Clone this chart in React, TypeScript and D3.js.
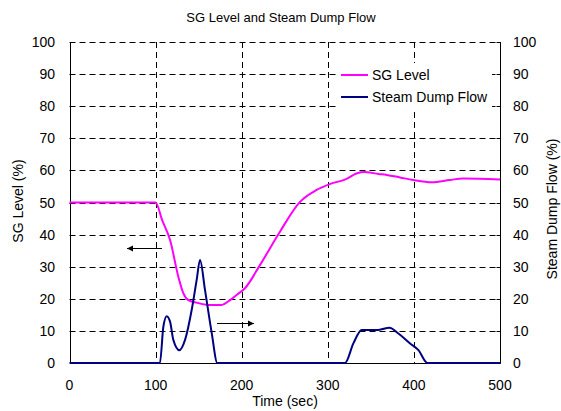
import React, { useEffect, useRef } from 'react';
import * as d3 from 'd3';

// SG level (left axis)
const sgTime = [0, 100, 107.6, 116.8, 126.4, 132.3, 138, 147.6, 161, 176.6, 186.5, 194, 203.8, 221.2, 244.4, 267.7, 287, 303, 320.5, 334, 342, 359, 368.4, 384, 399.3, 420.7, 441.6, 457.1, 500];
const sgLevel = [50, 50, 44.5, 38.3, 26.9, 21.7, 19.6, 18.8, 18.1, 18.1, 19.6, 21.2, 23.3, 30.5, 40.9, 50.2, 53.9, 55.8, 57.2, 59.1, 59.5, 58.9, 58.6, 57.8, 57.0, 56.3, 57.0, 57.5, 57.2];

// steam dump flow (right axis)
const dumpTime = [0, 105, 109, 112.9, 116.8, 120.6, 127.6, 134.2, 141.9, 147.7, 151.6, 157.4, 165.2, 171.7, 320, 329.7, 339.4, 358.7, 371.5, 382, 395.6, 405.3, 415.7, 500];
const dumpFlow = [0, 0, 11.3, 14.6, 12.9, 7.2, 4.0, 7.2, 16.5, 25.9, 32.1, 22.7, 9.3, 0, 0, 6.1, 10.3, 10.3, 11.0, 9.2, 6.1, 4.0, 0, 0];

const xTicks = [0, 100, 200, 300, 400, 500];
const yTicks = [0, 10, 20, 30, 40, 50, 60, 70, 80, 90, 100];
const seriesNames = ['SG Level', 'Steam Dump Flow'];
const seriesColors = ['#ff00ff', '#000080'];

const W = 561, H = 411;
const font = '"Liberation Sans", Arial, sans-serif';

export default function App() {
    const ref = useRef<SVGSVGElement>(null);

    useEffect(() => {
        const svg = d3.select(ref.current);
        svg.selectAll('*').remove();

        const x = d3.scaleLinear().domain([0, 500]).range([69.5, 500]);
        const yL = d3.scaleLinear().domain([0, 100]).range([363, 42]);
        const yR = d3.scaleLinear().domain([0, 100]).range([363, 42]);
        const px = (v: number) => Math.round(v) + 0.5;

        const g = svg.append('g');

        // horizontal grid
        g.selectAll('.hg').data(yTicks.filter(d => d > 0)).enter().append('line')
            .attr('x1', x(0)).attr('x2', x(500))
            .attr('y1', d => px(yL(d))).attr('y2', d => px(yL(d)))
            .attr('stroke', '#000').attr('stroke-dasharray', '6,4');

        // vertical grid
        g.selectAll('.vg').data(xTicks.slice(1, -1)).enter().append('line')
            .attr('x1', d => px(x(d))).attr('x2', d => px(x(d)))
            .attr('y1', yL(100)).attr('y2', yL(0))
            .attr('stroke', '#000').attr('stroke-dasharray', '6,4');

        // axes frame (left, bottom, right)
        g.append('path')
            .attr('d', `M${px(x(0))},${yL(100)}V${px(yL(0))}H${px(x(500))}V${yL(100)}`)
            .attr('fill', 'none').attr('stroke', '#000');

        // right axis ticks, pointing inward
        g.selectAll('.rt').data(yTicks).enter().append('line')
            .attr('x1', px(x(500)) - 4).attr('x2', px(x(500)))
            .attr('y1', d => px(yR(d))).attr('y2', d => px(yR(d)))
            .attr('stroke', '#000');

        // tick labels
        g.selectAll('.yl').data(yTicks).enter().append('text')
            .attr('x', 55).attr('y', d => yL(d) + 5)
            .attr('text-anchor', 'end').attr('font-size', 14).attr('font-family', font)
            .text(d => d);
        g.selectAll('.yr').data(yTicks).enter().append('text')
            .attr('x', 513).attr('y', d => yR(d) + 5)
            .attr('text-anchor', 'start').attr('font-size', 14).attr('font-family', font)
            .text(d => d);
        g.selectAll('.xl').data(xTicks).enter().append('text')
            .attr('x', d => x(d)).attr('y', 390)
            .attr('text-anchor', 'middle').attr('font-size', 14).attr('font-family', font)
            .text(d => d);

        // titles
        g.append('text').attr('x', 281).attr('y', 22).attr('text-anchor', 'middle')
            .attr('font-size', 13).attr('font-family', font).text('SG Level and Steam Dump Flow');
        g.append('text').attr('x', 285).attr('y', 406).attr('text-anchor', 'middle')
            .attr('font-size', 14).attr('font-family', font).text('Time (sec)');
        g.append('text').attr('transform', 'translate(23,201) rotate(-90)').attr('text-anchor', 'middle')
            .attr('font-size', 14).attr('font-family', font).text('SG Level (%)');
        g.append('text').attr('transform', 'translate(557,209) rotate(-90)').attr('text-anchor', 'middle')
            .attr('font-size', 14).attr('font-family', font).text('Steam Dump Flow (%)');

        // series
        const sgLine = d3.line<number>()
            .x((_, i) => x(sgTime[i])).y(d => yL(d))
            .curve(d3.curveMonotoneX);
        const dumpLine = d3.line<number>()
            .x((_, i) => x(dumpTime[i])).y(d => yR(d))
            .curve(d3.curveMonotoneX);

        g.append('path').datum(sgLevel).attr('d', sgLine)
            .attr('fill', 'none').attr('stroke', seriesColors[0]).attr('stroke-width', 2)
            .attr('stroke-linejoin', 'round');
        g.append('path').datum(dumpFlow).attr('d', dumpLine)
            .attr('fill', 'none').attr('stroke', seriesColors[1]).attr('stroke-width', 2)
            .attr('stroke-linejoin', 'round');

        // arrows telling which axis goes with which line
        const arrow = (x1: number, x2: number, y: number) => {
            const dir = Math.sign(x2 - x1);
            g.append('line').attr('x1', x1).attr('x2', x2).attr('y1', y).attr('y2', y)
                .attr('stroke', '#000');
            g.append('path')
                .attr('d', `M${x2},${y}L${x2 - dir * 6},${y - 3}L${x2 - dir * 6},${y + 3}Z`)
                .attr('fill', '#000');
        };
        arrow(162, 127, 248.5);
        arrow(217, 254, 323.5);

        // legend
        const lg = g.append('g');
        lg.append('rect').attr('x', 338).attr('y', 63).attr('width', 154).attr('height', 46)
            .attr('fill', '#fff');
        seriesNames.forEach((name, i) => {
            const ly = 75 + i * 22;
            lg.append('line').attr('x1', 341).attr('x2', 368).attr('y1', ly).attr('y2', ly)
                .attr('stroke', seriesColors[i]).attr('stroke-width', 2);
            lg.append('text').attr('x', 372).attr('y', ly + 5)
                .attr('font-size', 14).attr('font-family', font).text(name);
        });
    }, []);

    return (
        <svg ref={ref} width={W} height={H}
             style={{ position: 'absolute', left: 0, top: 0, background: '#fff' }} />
    );
}
